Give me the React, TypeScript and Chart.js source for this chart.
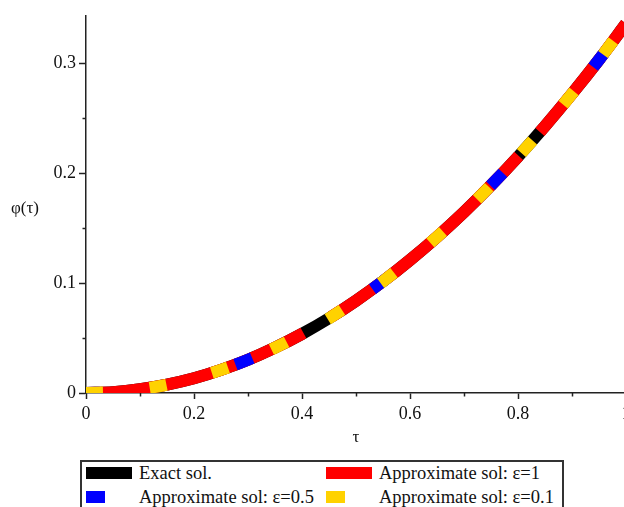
import React, { useEffect, useRef } from "react";
import { Chart, registerables } from "chart.js";

Chart.register(...registerables);

// τ values
const tau = [0, 0.05, 0.1, 0.15, 0.2, 0.25, 0.3, 0.35, 0.4, 0.45, 0.5, 0.55, 0.6, 0.65, 0.7, 0.75, 0.8, 0.85, 0.9, 0.95, 1.0];
// φ(τ) series (all curves overlap)
const exactSol = [0, 0.0008, 0.0034, 0.0076, 0.0134, 0.021, 0.0302, 0.0412, 0.0538, 0.068, 0.084, 0.1016, 0.121, 0.142, 0.1646, 0.189, 0.215, 0.2428, 0.2722, 0.3032, 0.336];
const approxEps1 = [0, 0.0008, 0.0034, 0.0076, 0.0134, 0.021, 0.0302, 0.0412, 0.0538, 0.068, 0.084, 0.1016, 0.121, 0.142, 0.1646, 0.189, 0.215, 0.2428, 0.2722, 0.3032, 0.336];
const approxEps05 = [0, 0.0008, 0.0034, 0.0076, 0.0134, 0.021, 0.0302, 0.0412, 0.0538, 0.068, 0.084, 0.1016, 0.121, 0.142, 0.1646, 0.189, 0.215, 0.2428, 0.2722, 0.3032, 0.336];
const approxEps01 = [0, 0.0008, 0.0034, 0.0076, 0.0134, 0.021, 0.0302, 0.0412, 0.0538, 0.068, 0.084, 0.1016, 0.121, 0.142, 0.1646, 0.189, 0.215, 0.2428, 0.2722, 0.3032, 0.336];

const seriesLabels = ["Exact sol.", "Approximate sol: ε=1", "Approximate sol: ε=0.5", "Approximate sol: ε=0.1"];
const seriesColors = ["#000000", "#ff0000", "#0000ff", "#ffd200"];

const xMinorTicks = [0.1, 0.3, 0.5, 0.7, 0.9];
const yMinorTicks = [0.05, 0.15, 0.25];

const SERIF = '"Liberation Serif", "Times New Roman", serif';

const toPoints = (ys: number[]) => ys.map((y, i) => ({ x: tau[i], y }));

export default function App() {
  const canvasRef = useRef<HTMLCanvasElement | null>(null);

  useEffect(() => {
    const canvas = canvasRef.current;
    if (!canvas) return;

    const extras = {
      id: "extras",
      afterDraw(chart: any) {
        const ctx = chart.ctx;
        const xs = chart.scales.x;
        const ys = chart.scales.y;
        const area = chart.chartArea;
        ctx.save();
        ctx.strokeStyle = "#222";
        ctx.lineWidth = 1.5;
        xMinorTicks.forEach((v) => {
          const px = Math.round(xs.getPixelForValue(v)) + 0.5;
          ctx.beginPath();
          ctx.moveTo(px, area.bottom);
          ctx.lineTo(px, area.bottom + 3.5);
          ctx.stroke();
        });
        yMinorTicks.forEach((v) => {
          const py = Math.round(ys.getPixelForValue(v)) + 0.5;
          ctx.beginPath();
          ctx.moveTo(area.left - 3.5, py);
          ctx.lineTo(area.left, py);
          ctx.stroke();
        });
        ctx.fillStyle = "#111";
        ctx.font = `17px ${SERIF}`;
        ctx.textBaseline = "middle";
        ctx.textAlign = "center";
        ctx.fillText("τ", (area.left + area.right) / 2, 438);
        ctx.textAlign = "left";
        ctx.fillText("φ(τ)", 11, (area.top + area.bottom) / 2 + 4);
        ctx.restore();
      },
    };

    const common = {
      borderWidth: 12,
      pointRadius: 0,
      pointHoverRadius: 0,
      cubicInterpolationMode: "monotone" as const,
      borderCapStyle: "butt" as const,
      fill: false,
    };

    const chart = new Chart(canvas, {
      type: "line",
      data: {
        datasets: [
          { ...common, label: seriesLabels[3], data: toPoints(approxEps01), borderColor: seriesColors[3], borderDash: [17, 47], borderDashOffset: 0, order: 0 },
          { ...common, label: seriesLabels[2], data: toPoints(approxEps05), borderColor: seriesColors[2], borderDash: [18, 139], borderDashOffset: 4, order: 1 },
          { ...common, label: seriesLabels[1], data: toPoints(approxEps1), borderColor: seriesColors[1], borderDash: [248, 32], borderDashOffset: 20, order: 2 },
          { ...common, label: seriesLabels[0], data: toPoints(exactSol), borderColor: seriesColors[0], order: 3 },
        ],
      },
      options: {
        animation: false,
        responsive: false,
        devicePixelRatio: 1,
        layout: { padding: { top: 16, right: 14, left: 0, bottom: 0 } },
        plugins: { legend: { display: false }, tooltip: { enabled: false } },
        events: [],
        scales: {
          x: {
            type: "linear",
            min: 0,
            max: 1,
            afterFit: (s: any) => { s.height = 114; },
            border: { display: true, color: "#222", width: 1.5 },
            grid: { drawOnChartArea: false, drawTicks: true, tickLength: 6, tickColor: "#222", tickWidth: 1.5 },
            ticks: {
              stepSize: 0.2,
              includeBounds: false,
              maxRotation: 0,
              autoSkip: false,
              color: "#111",
              padding: 4,
              font: { family: SERIF, size: 18 },
              callback: (v: any) => (Number(v) === 0 ? "0" : Number(v) === 1 ? "1" : Number(v).toFixed(1)),
            },
          },
          y: {
            type: "linear",
            min: 0,
            max: 0.343,
            afterFit: (s: any) => { s.width = 86; },
            border: { display: true, color: "#222", width: 1.5 },
            grid: { drawOnChartArea: false, drawTicks: true, tickLength: 7, tickColor: "#222", tickWidth: 1.5 },
            ticks: {
              stepSize: 0.1,
              includeBounds: false,
              color: "#111",
              padding: 3,
              font: { family: SERIF, size: 18 },
              callback: (v: any) => (Number(v) === 0 ? "0" : Number(v).toFixed(1)),
            },
          },
        },
      },
      plugins: [extras],
    });

    return () => chart.destroy();
  }, []);

  const legendCols = [86, 326];
  const legendRows = [473, 497];
  const legendSwatchW = [46, 46, 19, 19];
  const legendPos = [
    { c: 0, r: 0 },
    { c: 1, r: 0 },
    { c: 0, r: 1 },
    { c: 1, r: 1 },
  ];

  return (
    <div style={{ position: "fixed", left: 0, top: 0, width: 624, height: 507, overflow: "hidden", background: "#fff" }}>
      <canvas ref={canvasRef} width={640} height={507} style={{ position: "absolute", left: 0, top: 0, width: 640, height: 507 }} />
      <div
        style={{
          position: "absolute",
          left: 80,
          top: 460,
          width: 484,
          height: 70,
          border: "2px solid #333",
          boxSizing: "border-box",
          background: "#fff",
        }}
      />
      {seriesLabels.map((label, i) => {
        const p = legendPos[i];
        const x = legendCols[p.c];
        const y = legendRows[p.r];
        return (
          <React.Fragment key={label}>
            <div
              style={{
                position: "absolute",
                left: x,
                top: y - 6,
                width: legendSwatchW[i],
                height: 12,
                background: seriesColors[i],
              }}
            />
            <div
              style={{
                position: "absolute",
                left: x + 53,
                top: y - 12,
                height: 24,
                lineHeight: "24px",
                fontFamily: SERIF,
                fontSize: 18.5,
                color: "#111",
                whiteSpace: "nowrap",
              }}
            >
              {label}
            </div>
          </React.Fragment>
        );
      })}
    </div>
  );
}
